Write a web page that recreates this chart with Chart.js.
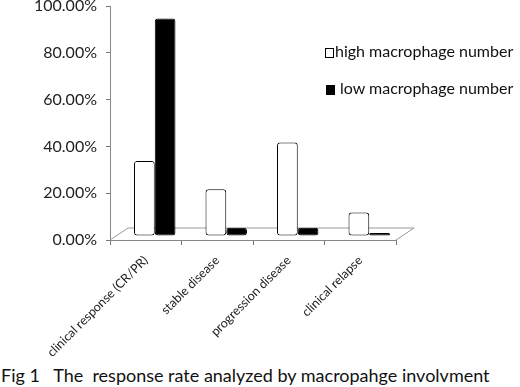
<!DOCTYPE html>
<html><head><meta charset="utf-8">
<script src="https://cdn.jsdelivr.net/npm/chart.js@4"></script>
<style>
body{margin:0;background:#fff;width:520px;height:387px;overflow:hidden;position:relative;font-family:Lato,sans-serif;}
#wrap{position:absolute;left:0;top:0;width:520px;height:360px;}
.leg{position:absolute;font-size:16px;color:#111;white-space:nowrap;line-height:18px;}
.sw{display:inline-block;width:7px;height:8px;border:1px solid #000;margin-right:1px;vertical-align:-1px;}
#cap{position:absolute;left:1px;top:365px;font-size:18px;color:#111;white-space:pre;line-height:20px;}
</style></head><body>
<div id="wrap"><canvas id="c" width="520" height="360"></canvas></div>
<div class="leg" style="left:325px;top:42px;"><span class="sw" style="background:#fff"></span>high macrophage number</div>
<div class="leg" style="left:326px;top:79px;"><span class="sw" style="background:#000;margin-right:5px"></span>low macrophage number</div>
<div id="cap">Fig 1   The  response rate analyzed by macropahge involvment</div>
<script>
const categories = ["clinical response (CR/PR)", "stable disease", "progression disease", "clinical relapse"];
const highValues = [32, 20, 40, 10];
const lowValues = [93, 3.5, 3.5, 0.5];
const yTicks = [0, 20, 40, 60, 80, 100];

const depthPlugin = {
  id: 'depth',
  beforeDatasetsDraw(chart) {
    const {ctx, chartArea: a} = chart;
    ctx.save();
    ctx.strokeStyle = '#999';
    ctx.lineWidth = 1;
    ctx.beginPath();
    ctx.moveTo(a.left, a.bottom);
    ctx.lineTo(a.left + 18, a.bottom - 12);
    ctx.lineTo(a.right + 18, a.bottom - 12);
    ctx.lineTo(a.right, a.bottom);
    ctx.stroke();
    ctx.restore();
    ctx.save();
    ctx.translate(9, -4);
  },
  afterDatasetsDraw(chart) {
    chart.ctx.restore();
  }
};

new Chart(document.getElementById('c'), {
  type: 'bar',
  data: {
    labels: categories,
    datasets: [
      {label: 'high macrophage number', data: highValues, backgroundColor: '#fff', borderColor: '#000', borderWidth: 1, borderRadius: 3, borderSkipped: false},
      {label: 'low macrophage number', data: lowValues, backgroundColor: '#000', borderColor: '#000', borderWidth: 1, borderRadius: 3, borderSkipped: false, minBarLength: 3}
    ]
  },
  options: {
    responsive: false,
    animation: false,
    layout: {padding: {top: 0, right: 124, left: 0, bottom: 0}},
    datasets: {bar: {categoryPercentage: 0.58, barPercentage: 1}},
    plugins: {legend: {display: false}, tooltip: {enabled: false}, title: {display: false}},
    scales: {
      y: {
        min: 0, max: 100,
        afterBuildTicks(s) { s.ticks = yTicks.map(v => ({value: v})); },
        afterFit(s) { s.width = 110; s.paddingTop = 6; },
        grid: {drawOnChartArea: false, drawTicks: true, tickLength: 4, color: '#777'},
        border: {color: '#888'},
        ticks: {color: '#222', font: {family: 'Lato', size: 16, lineHeight: 0.75}, padding: 9, callback: v => v.toFixed(2) + '%'}
      },
      x: {
        afterFit(s) { s.height = 120; },
        grid: {drawOnChartArea: false, drawTicks: true, tickLength: 5, offset: true, color: '#777'},
        border: {color: '#888'},
        ticks: {color: '#222', font: {family: 'Lato', size: 12.5}, maxRotation: 45, minRotation: 45, autoSkip: false, padding: 8}
      }
    }
  },
  plugins: [depthPlugin]
});
</script>
</body></html>
